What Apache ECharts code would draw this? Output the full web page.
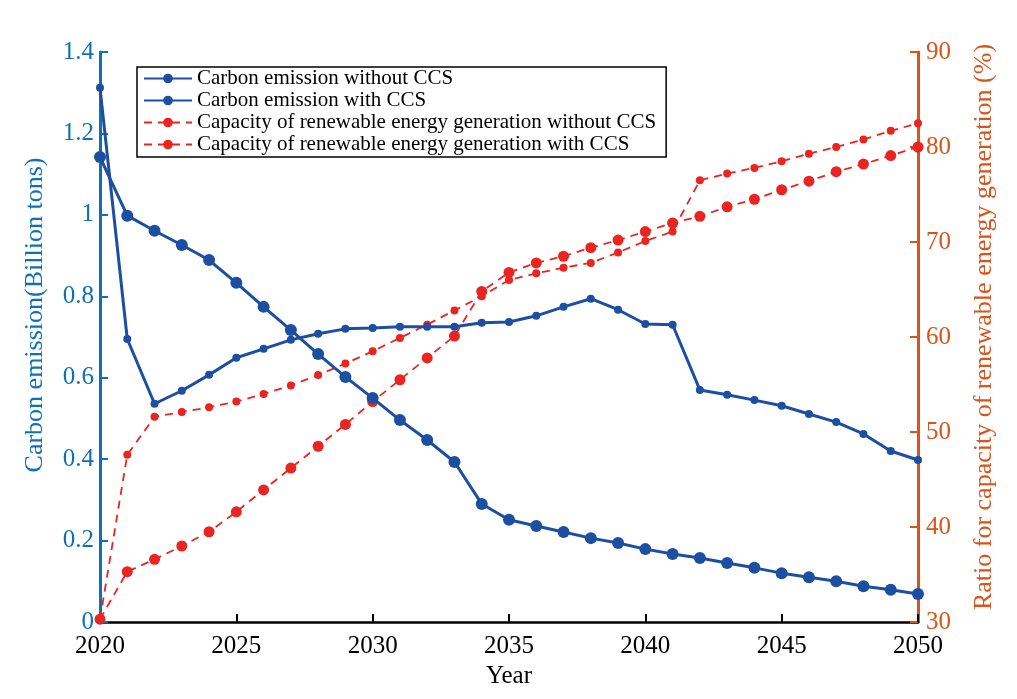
<!DOCTYPE html>
<html>
<head>
<meta charset="utf-8">
<script src="https://cdn.jsdelivr.net/npm/echarts@6/dist/echarts.min.js"></script>
<style>html,body{margin:0;padding:0;background:#fff}#c{width:1017px;height:699px}</style>
</head>
<body>
<div id="c"></div>
<script>
var years = [2020,2021,2022,2023,2024,2025,2026,2027,2028,2029,2030,2031,2032,2033,2034,2035,2036,2037,2038,2039,2040,2041,2042,2043,2044,2045,2046,2047,2048,2049,2050];
var emissionWithout = [1.312,0.695,0.536,0.568,0.607,0.649,0.671,0.693,0.708,0.72,0.722,0.725,0.725,0.725,0.735,0.737,0.752,0.774,0.794,0.767,0.732,0.730,0.570,0.558,0.545,0.531,0.511,0.491,0.462,0.420,0.398];
var emissionWith = [1.142,0.998,0.961,0.926,0.889,0.833,0.774,0.717,0.658,0.602,0.55,0.496,0.447,0.393,0.29,0.251,0.236,0.221,0.206,0.194,0.179,0.167,0.157,0.145,0.133,0.12,0.11,0.10,0.088,0.079,0.069];
var renewWithout = [30.3,47.6,51.6,52.1,52.6,53.2,54.0,54.9,56.0,57.2,58.5,59.9,61.3,62.8,64.3,66.0,66.7,67.3,67.8,68.9,70.1,71.1,76.5,77.2,77.8,78.5,79.3,80.0,80.8,81.7,82.5];
var renewWith = [30.3,35.3,36.6,38.0,39.5,41.6,43.9,46.2,48.5,50.8,53.2,55.5,57.8,60.1,64.8,66.8,67.8,68.5,69.4,70.2,71.1,72.0,72.7,73.7,74.5,75.5,76.4,77.4,78.2,79.1,80.0];
var names = ['Carbon emission without CCS','Carbon emission with CCS','Capacity of renewable energy generation without CCS','Capacity of renewable energy generation with CCS'];

function pairs(v){ return years.map(function(y,i){ return [y, v[i]]; }); }

var FONT = 'Liberation Serif';
var BLUE = '#1c4ea2', RED = '#ea2420', LAX = '#0e70b8', RAX = '#d9541a';

var chart = echarts.init(document.getElementById('c'));
chart.setOption({
  animation: false,
  textStyle: { fontFamily: FONT },
  grid: { left: 100, right: 99, top: 52, bottom: 77, containLabel: false },
  legend: {
    orient: 'vertical', left: 137, top: 67, width: 530,
    data: names,
    itemWidth: 48, itemHeight: 12, itemGap: 1,
    padding: [1, 10, 2, 6],
    borderColor: '#000', borderWidth: 1.5, backgroundColor: '#fff',
    textStyle: { fontFamily: FONT, fontSize: 21, color: '#000' }
  },
  xAxis: {
    type: 'value', min: 2020, max: 2050, interval: 5,
    name: 'Year', nameLocation: 'middle', nameGap: 40,
    nameTextStyle: { fontFamily: FONT, fontSize: 25, color: '#000' },
    axisLine: { lineStyle: { color: '#000', width: 2.5 } },
    axisTick: { inside: true, length: 8, lineStyle: { color: '#000', width: 2 } },
    axisLabel: { fontFamily: FONT, fontSize: 25, color: '#000', margin: 12,
      formatter: function(v){ return String(v); } },
    splitLine: { show: false }
  },
  yAxis: [{
    type: 'value', min: 0, max: 1.4, interval: 0.2, position: 'left',
    name: 'Carbon emission(Billion tons)', nameLocation: 'middle', nameGap: 52,
    nameTextStyle: { fontFamily: FONT, fontSize: 26, color: LAX, padding: [0, 0, 0, 44] },
    axisLine: { show: true, lineStyle: { color: LAX, width: 3 } },
    axisTick: { show: true, inside: true, length: 8, lineStyle: { color: LAX, width: 2 } },
    axisLabel: { fontFamily: FONT, fontSize: 25, color: LAX, margin: 6,
      formatter: function(v){ return String(Math.round(v*10)/10); } },
    splitLine: { show: false }
  },{
    type: 'value', min: 30, max: 90, interval: 10, position: 'right',
    name: 'Ratio for capacity of renewable energy generation (%)', nameLocation: 'middle', nameGap: 53,
    nameTextStyle: { fontFamily: FONT, fontSize: 26, color: RAX, padding: [0, 0, 0, 20] },
    axisLine: { show: true, lineStyle: { color: RAX, width: 3 } },
    axisTick: { show: true, inside: true, length: 8, lineStyle: { color: RAX, width: 2 } },
    axisLabel: { fontFamily: FONT, fontSize: 25, color: RAX, margin: 8 },
    splitLine: { show: false }
  }],
  series: [{
    name: names[0], type: 'line', yAxisIndex: 0, data: pairs(emissionWithout),
    symbol: 'circle', symbolSize: 8, showAllSymbol: true,
    lineStyle: { color: BLUE, width: 3 }, itemStyle: { color: BLUE }, z: 3
  },{
    name: names[1], type: 'line', yAxisIndex: 0, data: pairs(emissionWith),
    symbol: 'circle', symbolSize: 12, showAllSymbol: true,
    lineStyle: { color: BLUE, width: 3 }, itemStyle: { color: BLUE }, z: 3
  },{
    name: names[2], type: 'line', yAxisIndex: 1, data: pairs(renewWithout),
    symbol: 'circle', symbolSize: 8, showAllSymbol: true,
    lineStyle: { color: RED, width: 1.8, type: [8, 6] }, itemStyle: { color: RED }, z: 2
  },{
    name: names[3], type: 'line', yAxisIndex: 1, data: pairs(renewWith),
    symbol: 'circle', symbolSize: 11, showAllSymbol: true,
    lineStyle: { color: RED, width: 1.8, type: [8, 6] }, itemStyle: { color: RED }, z: 2
  }]
});
</script>
</body>
</html>
